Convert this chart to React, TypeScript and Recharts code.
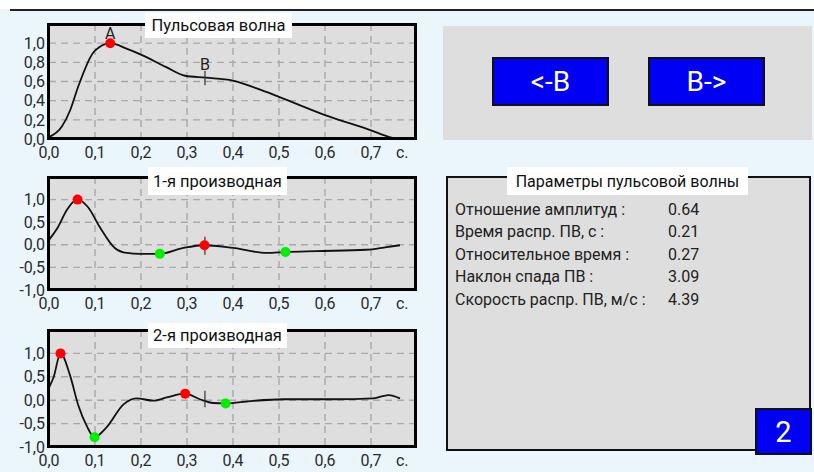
import React from 'react';
import {
  ComposedChart,
  Line,
  Scatter,
  XAxis,
  YAxis,
  CartesianGrid,
  ReferenceLine,
  ReferenceDot,
} from 'recharts';

// ---------- data ----------
const timeTicks = [0, 0.1, 0.2, 0.3, 0.4, 0.5, 0.6, 0.7];
const timeTickLabels = ['0,0', '0,1', '0,2', '0,3', '0,4', '0,5', '0,6', '0,7'];
const unitTickPos = 0.768;
const unitLabel = 'с.';

const pulseTicks = [0, 0.2, 0.4, 0.6, 0.8, 1.0];
const pulseTickLabels = ['0,0', '0,2', '0,4', '0,6', '0,8', '1,0'];
const derivTicks = [-1, -0.5, 0, 0.5, 1.0];
const derivTickLabels = ['-1,0', '-0,5', '0,0', '0,5', '1,0'];

const pulseTime = [0, 0.028, 0.046, 0.063, 0.096, 0.11, 0.133, 0.17, 0.2, 0.255, 0.296, 0.34, 0.4, 0.45, 0.5, 0.6, 0.7, 0.74, 0.757];
const pulseValue = [0.02, 0.13, 0.3, 0.54, 0.9, 0.96, 1.0, 0.94, 0.88, 0.75, 0.66, 0.64, 0.61, 0.53, 0.44, 0.25, 0.09, 0.02, 0.0];

const d1Time = [0, 0.02, 0.038, 0.062, 0.085, 0.11, 0.143, 0.169, 0.198, 0.241, 0.292, 0.338, 0.4, 0.473, 0.514, 0.582, 0.69, 0.734, 0.763];
const d1Value = [0.11, 0.4, 0.76, 1.0, 0.83, 0.4, -0.07, -0.18, -0.2, -0.2, -0.07, -0.01, -0.07, -0.18, -0.16, -0.14, -0.11, -0.05, -0.01];

const d2Time = [0, 0.01, 0.025, 0.046, 0.064, 0.082, 0.099, 0.125, 0.162, 0.19, 0.227, 0.256, 0.296, 0.328, 0.357, 0.384, 0.437, 0.51, 0.618, 0.705, 0.738, 0.763];
const d2Value = [0.27, 0.49, 1.0, 0.52, -0.12, -0.55, -0.79, -0.58, -0.09, 0.04, -0.01, 0.06, 0.14, 0.02, -0.06, -0.07, -0.02, 0.02, 0.02, 0.04, 0.11, 0.04];

const pulseRedTime = [0.133];
const pulseRedValue = [1.0];
const d1RedTime = [0.062, 0.338];
const d1RedValue = [1.0, -0.01];
const d1GreenTime = [0.241, 0.514];
const d1GreenValue = [-0.2, -0.16];
const d2RedTime = [0.025, 0.296];
const d2RedValue = [1.0, 0.14];
const d2GreenTime = [0.099, 0.384];
const d2GreenValue = [-0.79, -0.07];

const markerTime = 0.339;
const pulseMarker = [0.56, 0.71];
const d1Marker = [-0.22, 0.18];
const d2Marker = [-0.15, 0.2];

const pulseLetters = [
  { t: 0.133, v: 1.0, text: 'A' },
  { t: 0.339, v: 0.68, text: 'B' },
];

const paramNames = [
  'Отношение амплитуд :',
  'Время распр. ПВ, с :',
  'Относительное время :',
  'Наклон спада ПВ :',
  'Скорость распр. ПВ, м/с :',
];
const paramValues = ['0.64', '0.21', '0.27', '3.09', '4.39'];

// ---------- helpers ----------
type Pt = { t: number; v: number };
const zip = (ts: number[], vs: number[]): Pt[] => ts.map((t, i) => ({ t, v: vs[i] }));

const FONT = 'Roboto, "Noto Sans", sans-serif';
const PLOT_RIGHT = 417;
const PLOT_LEFT = 49;
const X_AXIS_H = 25;
const TICK_STYLE = { fill: '#2a2a2a', fontSize: 16, fontFamily: FONT };

const makeDot = (color: string) => (p: any) => (
  <circle cx={p.cx} cy={p.cy} r={5} fill={color} stroke="none" />
);
const RedDot = makeDot('#ff0000');
const GreenDot = makeDot('#00ee00');

interface PlotProps {
  chartTop: number;
  height: number;
  plotTop: number;
  plotBottom: number;
  data: Pt[];
  yDomain: [number, number];
  yTicks: number[];
  yLabels: string[];
  red: Pt[];
  green: Pt[];
  marker: number[];
  letters?: { t: number; v: number; text: string }[];
  title: string;
  titleBox: { left: number; top: number; width: number; height: number };
}

function Plot(p: PlotProps) {
  const xTicks = [...timeTicks, unitTickPos];
  const xFmt = (v: number) => {
    const i = timeTicks.indexOf(v);
    return i >= 0 ? timeTickLabels[i] : unitLabel;
  };
  const yFmt = (v: number) => {
    const i = p.yTicks.indexOf(v);
    return i >= 0 ? p.yLabels[i] : '';
  };
  const width = 430;
  const bottomMargin = p.chartTop + p.height - X_AXIS_H - p.plotBottom;
  return (
    <>
      <div style={{ position: 'absolute', left: 0, top: p.chartTop, width, height: p.height }}>
        <ComposedChart
          width={width}
          height={p.height}
          data={p.data}
          margin={{ top: p.plotTop - p.chartTop, right: width - PLOT_RIGHT, left: 0, bottom: bottomMargin }}
        >
          <CartesianGrid
            stroke="#a9a9a9"
            strokeWidth={1.4}
            strokeDasharray="7 5"
            fill="#dedede"
            fillOpacity={1}
            horizontalValues={p.yTicks}
            verticalValues={timeTicks}
          />
          <XAxis
            type="number"
            dataKey="t"
            domain={[0, 0.8]}
            ticks={xTicks}
            interval={0}
            tickFormatter={xFmt}
            axisLine={false}
            tickLine={false}
            tickSize={5}
            tickMargin={3}
            height={X_AXIS_H}
            allowDataOverflow
            tick={TICK_STYLE}
          />
          <YAxis
            type="number"
            domain={p.yDomain}
            ticks={p.yTicks}
            interval={0}
            tickFormatter={yFmt}
            axisLine={false}
            tickLine={false}
            tickSize={2}
            tickMargin={2}
            width={PLOT_LEFT}
            allowDataOverflow
            tick={TICK_STYLE}
          />
          <Line
            dataKey="v"
            type="monotone"
            stroke="#111"
            strokeWidth={1.8}
            dot={false}
            activeDot={false}
            isAnimationActive={false}
          />
          <ReferenceLine
            segment={[
              { x: markerTime, y: p.marker[0] },
              { x: markerTime, y: p.marker[1] },
            ]}
            stroke="#333"
            strokeWidth={1.2}
          />
          {p.red.length > 0 && (
            <Scatter data={p.red} dataKey="v" shape={RedDot} isAnimationActive={false} />
          )}
          {p.green.length > 0 && (
            <Scatter data={p.green} dataKey="v" shape={GreenDot} isAnimationActive={false} />
          )}
          {(p.letters || []).map((l) => (
            <ReferenceDot
              key={l.text}
              x={l.t}
              y={l.v}
              r={0}
              fill="none"
              stroke="none"
              label={{ value: l.text, position: 'top', offset: 4, fill: '#222', fontSize: 16, fontFamily: FONT }}
            />
          ))}
        </ComposedChart>
      </div>
      <div
        style={{
          position: 'absolute',
          left: PLOT_LEFT - 2,
          top: p.plotTop - 1,
          width: PLOT_RIGHT - PLOT_LEFT + 2,
          height: p.plotBottom - p.plotTop + 2,
          border: '3px solid #000',
          boxSizing: 'border-box',
          pointerEvents: 'none',
        }}
      />
      <div
        style={{
          position: 'absolute',
          left: p.titleBox.left,
          top: p.titleBox.top,
          width: p.titleBox.width,
          height: p.titleBox.height,
          background: '#fff',
          display: 'flex',
          alignItems: 'center',
          justifyContent: 'center',
          fontSize: 16.5,
          color: '#111',
        }}
      >
        {p.title}
      </div>
    </>
  );
}

const buttonStyle = (left: number): React.CSSProperties => ({
  position: 'absolute',
  left,
  top: 57,
  width: 117,
  height: 49,
  background: '#0000f5',
  border: '2px solid #111',
  boxSizing: 'border-box',
  color: '#fff',
  fontSize: 28,
  display: 'flex',
  alignItems: 'center',
  justifyContent: 'center',
});

export default function App() {
  return (
    <div
      style={{
        position: 'absolute',
        left: 0,
        top: 0,
        width: 814,
        height: 472,
        background: '#eaf6fc',
        fontFamily: FONT,
        overflow: 'hidden',
      }}
    >
      <div style={{ position: 'absolute', left: 0, top: 0, width: 814, height: 9, background: '#fff' }} />
      <div style={{ position: 'absolute', left: 10, top: 9, width: 804, height: 2, background: '#222' }} />

      <Plot
        chartTop={0}
        height={170}
        plotTop={24}
        plotBottom={139}
        data={zip(pulseTime, pulseValue)}
        yDomain={[0, 1.2]}
        yTicks={pulseTicks}
        yLabels={pulseTickLabels}
        red={zip(pulseRedTime, pulseRedValue)}
        green={[]}
        marker={pulseMarker}
        letters={pulseLetters}
        title="Пульсовая волна"
        titleBox={{ left: 145, top: 13, width: 147, height: 25 }}
      />
      <Plot
        chartTop={160}
        height={160}
        plotTop={177}
        plotBottom={290}
        data={zip(d1Time, d1Value)}
        yDomain={[-1, 1.5]}
        yTicks={derivTicks}
        yLabels={derivTickLabels}
        red={zip(d1RedTime, d1RedValue)}
        green={zip(d1GreenTime, d1GreenValue)}
        marker={d1Marker}
        title="1-я производная"
        titleBox={{ left: 148, top: 167, width: 139, height: 28 }}
      />
      <Plot
        chartTop={310}
        height={162}
        plotTop={330}
        plotBottom={447}
        data={zip(d2Time, d2Value)}
        yDomain={[-1, 1.5]}
        yTicks={derivTicks}
        yLabels={derivTickLabels}
        red={zip(d2RedTime, d2RedValue)}
        green={zip(d2GreenTime, d2GreenValue)}
        marker={d2Marker}
        title="2-я производная"
        titleBox={{ left: 148, top: 323, width: 139, height: 25 }}
      />

      {/* navigation panel */}
      <div style={{ position: 'absolute', left: 443, top: 26, width: 369, height: 114, background: '#dedede' }} />
      <div style={buttonStyle(492)}>&lt;-B</div>
      <div style={buttonStyle(648)}>B-&gt;</div>

      {/* parameters panel */}
      <div
        style={{
          position: 'absolute',
          left: 446,
          top: 176,
          width: 365,
          height: 275,
          background: '#dedede',
          border: '2px solid #111',
          boxSizing: 'border-box',
        }}
      />
      <div
        style={{
          position: 'absolute',
          left: 507,
          top: 167,
          width: 241,
          height: 28,
          background: '#fff',
          display: 'flex',
          alignItems: 'center',
          justifyContent: 'center',
          fontSize: 16,
          color: '#111',
        }}
      >
        Параметры пульсовой волны
      </div>
      {paramNames.map((name, i) => (
        <React.Fragment key={name}>
          <div
            style={{
              position: 'absolute',
              left: 455,
              top: 200 + i * 22.4,
              fontSize: 16,
              lineHeight: '20px',
              color: '#222',
              whiteSpace: 'nowrap',
            }}
          >
            {name}
          </div>
          <div
            style={{
              position: 'absolute',
              left: 668,
              top: 200 + i * 22.4,
              fontSize: 16,
              lineHeight: '20px',
              color: '#222',
            }}
          >
            {paramValues[i]}
          </div>
        </React.Fragment>
      ))}
      <div
        style={{
          position: 'absolute',
          left: 755,
          top: 408,
          width: 57,
          height: 47,
          background: '#0000f5',
          border: '2px solid #111',
          boxSizing: 'border-box',
          color: '#fff',
          fontSize: 29,
          display: 'flex',
          alignItems: 'center',
          justifyContent: 'center',
        }}
      >
        2
      </div>
    </div>
  );
}
